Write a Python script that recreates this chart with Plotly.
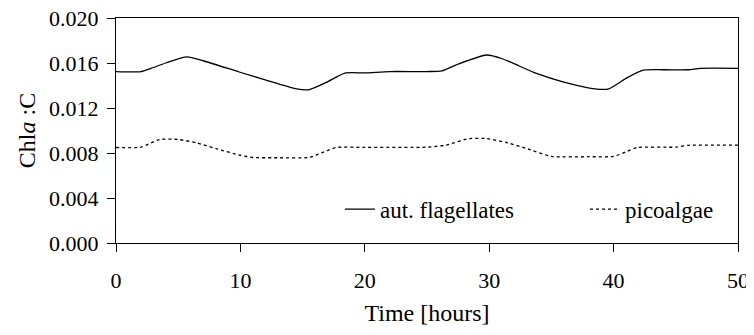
import plotly.graph_objects as go

flag_hours = [0, 2, 3, 4, 5.7, 7, 9.9, 12, 14.5, 15.5, 16.9, 18.4, 20, 22, 25, 26.2, 27.5, 29.8, 31, 33.8, 36, 38.5, 39.6, 41.1, 42.4, 44, 46, 47, 50]
flag_values = [0.01524, 0.01524, 0.01560, 0.01600, 0.01654, 0.01620, 0.01520, 0.01450, 0.01370, 0.01362, 0.01427, 0.01510, 0.01512, 0.01524, 0.01524, 0.01530, 0.01590, 0.01671, 0.01640, 0.01507, 0.01430, 0.01370, 0.01370, 0.01470, 0.01536, 0.01540, 0.01540, 0.01553, 0.01553]

pico_hours = [0, 2, 3.5, 5, 6.5, 8, 10, 11, 13, 15.5, 16.5, 17.7, 20, 25, 26.5, 28.4, 29.8, 31.5, 33, 35, 38, 40, 41, 41.9, 45, 46, 50]
pico_values = [0.00849, 0.00852, 0.00920, 0.00920, 0.00890, 0.00840, 0.00780, 0.00760, 0.00758, 0.00760, 0.00800, 0.00849, 0.00850, 0.00852, 0.00870, 0.00928, 0.00928, 0.00890, 0.00840, 0.00770, 0.00767, 0.00770, 0.00810, 0.00849, 0.00852, 0.00868, 0.00870]

x_ticks = [0, 10, 20, 30, 40, 50]
y_ticks = [0.000, 0.004, 0.008, 0.012, 0.016, 0.020]
y_tick_labels = ["0.000", "0.004", "0.008", "0.012", "0.016", "0.020"]

fig = go.Figure()
fig.add_trace(go.Scatter(x=flag_hours, y=flag_values, mode="lines", name="aut. flagellates",
                         legend="legend",
                         line=dict(color="black", width=1.3, shape="spline", smoothing=0.6)))
fig.add_trace(go.Scatter(x=pico_hours, y=pico_values, mode="lines", name="picoalgae",
                         legend="legend2",
                         line=dict(color="black", width=1.3, dash="3px,3px", shape="spline", smoothing=0.6)))

fam = "Times New Roman, Liberation Serif, serif"
tick_font = dict(family=fam, size=22, color="black")
leg_font = dict(family=fam, size=23, color="black")
title_font = dict(family=fam, size=24, color="black")

fig.update_layout(
    width=754, height=327,
    margin=dict(l=108, r=24, t=10, b=92, autoexpand=False),
    paper_bgcolor="white", plot_bgcolor="white",
    font=tick_font,
    showlegend=True,
    legend=dict(orientation="h", x=0.36, y=0.15, xanchor="left", yanchor="middle",
                bgcolor="rgba(0,0,0,0)", font=leg_font),
    legend2=dict(orientation="h", x=0.754, y=0.15, xanchor="left", yanchor="middle",
                 bgcolor="rgba(0,0,0,0)", font=leg_font),
    xaxis=dict(range=[0, 50], tickvals=x_ticks, ticks="outside", ticklen=8, tickcolor="black",
               showline=True, linecolor="black", linewidth=1, mirror=True, showgrid=False,
               zeroline=False, automargin=False, ticklabeloverflow="allow", ticklabelstandoff=10,
               title=dict(text="Time [hours]", standoff=11, font=title_font), tickfont=tick_font),
    yaxis=dict(range=[0, 0.020], tickvals=y_ticks, ticktext=y_tick_labels, ticks="outside", ticklen=8,
               tickcolor="black", showline=True, linecolor="black", linewidth=1, mirror=True,
               showgrid=False, zeroline=False, automargin=False, ticklabeloverflow="allow",
               ticklabelstandoff=4,
               title=dict(text="Chl<i>a</i> :C", standoff=6, font=title_font),
               tickfont=tick_font),
)

fig.write_html("out.html")
